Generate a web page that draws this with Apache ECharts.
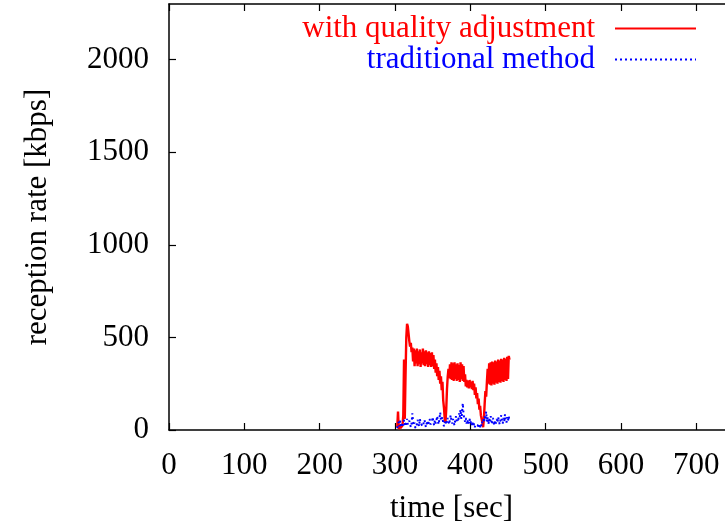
<!DOCTYPE html>
<html>
<head>
<meta charset="utf-8">
<script src="https://cdn.jsdelivr.net/npm/echarts@6/dist/echarts.min.js"></script>
<style>
  html, body { margin: 0; padding: 0; background: #fff; }
  #chart { width: 725px; height: 524px; }
</style>
</head>
<body>
<div id="chart"></div>
<script>
// time axis (seconds) shared by both traces
const timeStart = 303;

// reception rate with quality adjustment [kbps], one sample per second from timeStart
const adjustedRate = [
  15, 100, 5, 30, 10, 20, 0, 25, 80, 380,
  60, 300, 500, 573, 560, 520, 480, 450, 470, 420,
  445, 370, 440, 345, 430, 360, 440, 345, 425, 355,
  435, 340, 420, 360, 440, 350, 425, 345, 430, 355,
  420, 340, 425, 350, 415, 340, 420, 345, 405, 330,
  380, 310, 360, 290, 340, 270, 320, 250, 290, 215,
  260, 160, 120, 60, 40, 110, 220, 290, 330, 280,
  355, 275, 365, 270, 360, 265, 365, 275, 355, 265,
  360, 270, 350, 260, 365, 275, 355, 265, 345, 260,
  300, 235, 270, 230, 265, 225, 270, 230, 260, 220,
  265, 215, 250, 190, 230, 170, 200, 140, 170, 110,
  130, 80, 90, 40, 15, 60, 140, 210, 180, 260,
  330, 250, 360, 245, 365, 240, 370, 250, 365, 245,
  375, 255, 370, 250, 380, 260, 375, 255, 385, 265,
  380, 260, 390, 270, 385, 265, 395, 275, 400, 380
];

// reception rate with the traditional method [kbps]
const traditionalRate = [
  10, 30, 45, 20, 50, 30, 15, 40, 25, 55,
  35, 20, 45, 60, 30, 20, 50, 40, 15, 35,
  90, 45, 25, 40, 10, 0, 30, 55, 40, 20,
  60, 35, 25, 45, 20, 30, 55, 40, 15, 35,
  50, 25, 45, 60, 30, 20, 45, 70, 40, 25,
  55, 35, 50, 75, 45, 30, 60, 95, 50, 40,
  70, 35, 20, 45, 30, 55, 40, 65, 45, 30,
  60, 80, 50, 35, 60, 40, 25, 55, 75, 45,
  60, 45, 90, 70, 110, 60, 95, 145, 85, 60,
  45, 65, 35, 55, 30, 45, 60, 35, 50, 25,
  40, 20, 35, 15, 30, 20, 40, 25, 10, 30,
  15, 35, 20, 45, 60, 40, 75, 55, 100, 45,
  70, 30, 60, 40, 75, 50, 30, 65, 45, 25,
  50, 35, 60, 40, 70, 45, 30, 55, 80, 50,
  35, 65, 45, 85, 55, 40, 70, 50, 75, 45
];

const xTicks = { min: 0, max: 750, interval: 100 };
const yTicks = { min: 0, max: 2300, interval: 500 };

const seriesNames = ['with quality adjustment', 'traditional method'];

const toPairs = (vals) => vals.map((v, i) => [timeStart + i, v]);

const font = 'Liberation Serif';
const fontSize = 31;
const axisLineStyle = { color: '#000', width: 1.5 };
const tickStyle = { show: true, inside: true, length: 7, lineStyle: { color: '#000', width: 1.2 } };

const chart = echarts.init(document.getElementById('chart'), null, { renderer: 'canvas' });

chart.setOption({
  animation: false,
  backgroundColor: '#fff',
  // the plot frame runs on past the right edge of the page
  grid: { left: 169, top: 4, right: -9, bottom: 94, containLabel: false, outerBoundsMode: 'none' },
  legend: {
    orient: 'vertical',
    right: 28,
    top: 13,
    padding: 0,
    align: 'right',
    itemWidth: 81,
    itemHeight: 14,
    itemGap: 0,
    itemStyle: { opacity: 0 },
    textStyle: { fontFamily: font, fontSize: fontSize, padding: [0, 15, 0, 0] },
    data: [
      { name: seriesNames[0], textStyle: { color: '#ff0000' } },
      { name: seriesNames[1], textStyle: { color: '#0000ff' } }
    ]
  },
  xAxis: [
    {
      type: 'value',
      position: 'bottom',
      min: xTicks.min, max: xTicks.max, interval: xTicks.interval,
      name: 'time [sec]',
      nameLocation: 'middle',
      nameGap: 63,
      nameTextStyle: { fontFamily: font, fontSize: fontSize, color: '#000' },
      axisLine: { show: true, onZero: false, lineStyle: axisLineStyle },
      axisTick: tickStyle,
      axisLabel: { fontFamily: font, fontSize: fontSize, color: '#000', margin: 20, showMaxLabel: false },
      splitLine: { show: false }
    },
    {
      type: 'value',
      position: 'top',
      min: xTicks.min, max: xTicks.max, interval: xTicks.interval,
      axisLine: { show: true, onZero: false, lineStyle: axisLineStyle },
      axisTick: tickStyle,
      axisLabel: { show: false },
      splitLine: { show: false }
    }
  ],
  yAxis: [
    {
      type: 'value',
      position: 'left',
      min: yTicks.min, max: yTicks.max, interval: yTicks.interval,
      name: 'reception rate [kbps]',
      nameLocation: 'middle',
      nameGap: 116,
      nameTextStyle: { fontFamily: font, fontSize: fontSize, color: '#000' },
      axisLine: { show: true, onZero: false, lineStyle: axisLineStyle },
      axisTick: tickStyle,
      axisLabel: {
        fontFamily: font, fontSize: fontSize, color: '#000', margin: 20, showMaxLabel: false,
        formatter: (v) => String(v)
      },
      splitLine: { show: false }
    },
    {
      type: 'value',
      position: 'right',
      min: yTicks.min, max: yTicks.max, interval: yTicks.interval,
      axisLine: { show: true, onZero: false, lineStyle: axisLineStyle },
      axisTick: tickStyle,
      axisLabel: { show: false },
      splitLine: { show: false }
    }
  ],
  series: [
    {
      name: seriesNames[0],
      type: 'line',
      xAxisIndex: 0,
      yAxisIndex: 0,
      showSymbol: false,
      symbol: 'none',
      color: '#ff0000',
      lineStyle: { color: '#ff0000', width: 2.4 },
      data: toPairs(adjustedRate)
    },
    {
      name: seriesNames[1],
      type: 'line',
      xAxisIndex: 0,
      yAxisIndex: 0,
      showSymbol: false,
      symbol: 'none',
      color: '#0000ff',
      lineStyle: { color: '#0000ff', width: 2, type: [2, 3] },
      data: toPairs(traditionalRate)
    }
  ]
});
</script>
</body>
</html>
